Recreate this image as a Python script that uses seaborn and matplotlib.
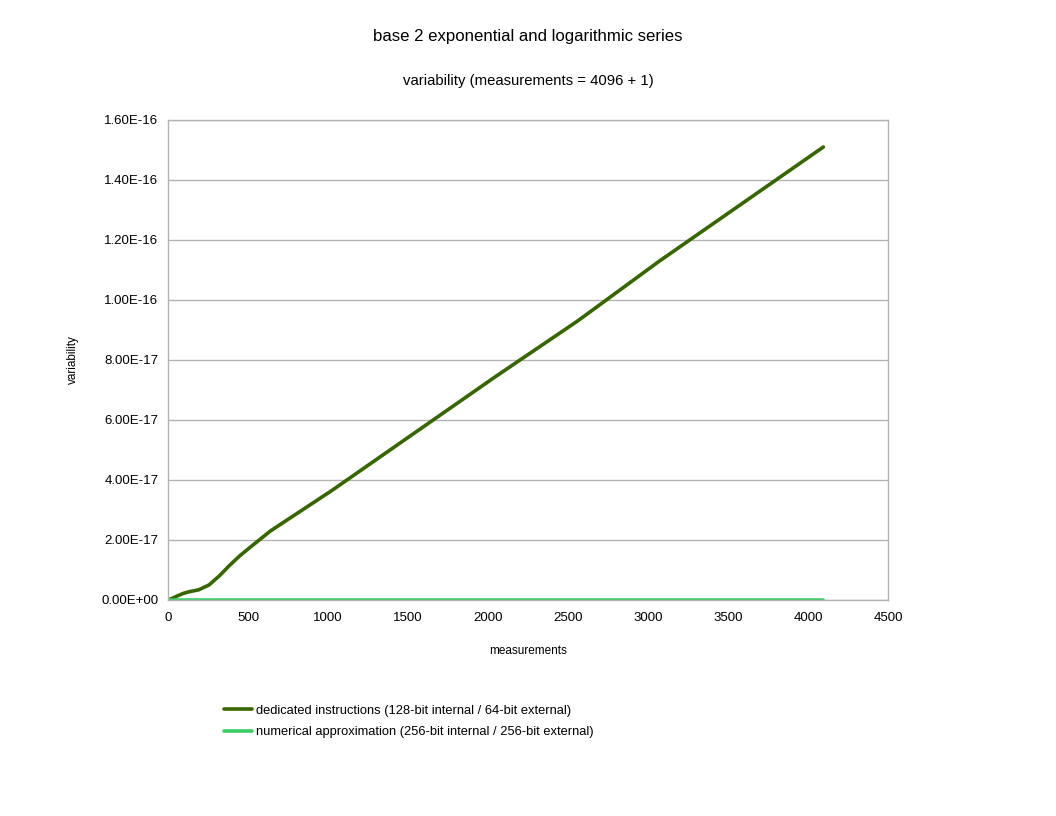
import numpy as np
import pandas as pd
import seaborn as sns
import matplotlib.pyplot as plt
from matplotlib.ticker import FuncFormatter

# values
measurements = [0, 32, 64, 96, 128, 192, 256, 320, 384, 448, 512, 640, 768, 1024,
                1536, 2048, 2560, 3072, 3584, 4096]
dedicated = [0.0, 7e-19, 1.5e-18, 2.2e-18, 2.7e-18, 3.4e-18, 5.0e-18, 8.0e-18, 1.15e-17,
             1.47e-17, 1.75e-17, 2.3e-17, 2.75e-17, 3.65e-17,
             5.55e-17, 7.45e-17, 9.3e-17, 1.13e-16, 1.32e-16, 1.51e-16]
numerical = [0.0] * len(measurements)

series_names = ["dedicated instructions (128-bit internal / 64-bit external)",
                "numerical approximation (256-bit internal / 256-bit external)"]
colors = ["#376600", "#3ccc66"]

df = pd.concat([
    pd.DataFrame({"measurements": measurements, "variability": dedicated, "series": series_names[0]}),
    pd.DataFrame({"measurements": measurements, "variability": numerical, "series": series_names[1]}),
])

sns.set_style("white")
plt.rcParams['font.family'] = ['Liberation Sans', 'DejaVu Sans']
plt.rcParams['text.color'] = 'black'
plt.rcParams['xtick.color'] = 'black'
plt.rcParams['ytick.color'] = 'black'
plt.rcParams['axes.labelcolor'] = 'black'

fig = plt.figure(figsize=(10.56, 8.16), dpi=100)
ax = fig.add_axes([168 / 1056, 1 - 600 / 816, 720 / 1056, 480 / 816])

sns.lineplot(data=df, x="measurements", y="variability", hue="series",
             palette=colors, linewidth=2.6, ax=ax, legend=False)

ax.set_xlim(0, 4500)
ax.set_ylim(0, 1.6e-16)
ax.set_xticks(np.arange(0, 4501, 500))
ax.set_yticks(np.arange(0, 1.61e-16, 2e-17))
ax.yaxis.set_major_formatter(FuncFormatter(lambda v, p: "%.2E" % v))
ax.yaxis.grid(True, color="#b3b3b3", linewidth=1)
ax.set_axisbelow(True)
for s in ax.spines.values():
    s.set_color("#b3b3b3")
    s.set_linewidth(1)
ax.tick_params(axis="y", length=5, color="#b3b3b3", labelsize=9.5, pad=2,
               labelcolor="black")
ax.tick_params(axis="x", length=5, color="#b3b3b3", labelsize=9.5, pad=3.5,
               labelcolor="black")

ax.set_xlabel("measurements", fontsize=8.5, labelpad=15.5)
ax.set_ylabel("variability", fontsize=8.5)
ax.yaxis.set_label_coords(-(168 - 79) / 720, 0.5)

fig.text(528 / 1056, 1 - 37 / 816, "base 2 exponential and logarithmic series",
         ha="center", va="center", fontsize=12.1)
fig.text(528 / 1056, 1 - 81 / 816, "variability (measurements = 4096 + 1)",
         ha="center", va="center", fontsize=10.7)

handles = [plt.Line2D([], [], color=c, linewidth=2.6) for c in colors]
fig.legend(handles, series_names, loc="upper left", bbox_to_anchor=(212 / 1056, 1 - 693 / 816),
           frameon=False, fontsize=9.3, handlelength=2.2, handletextpad=0.3, labelspacing=0.75)

fig.savefig("out.png", dpi=100)
